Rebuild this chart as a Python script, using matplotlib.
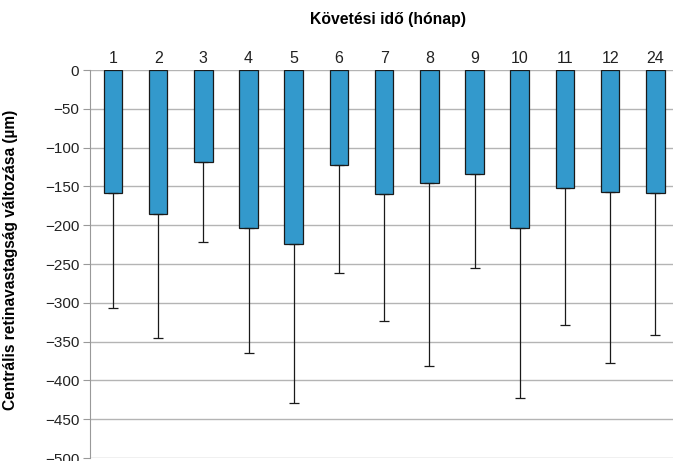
import numpy as np
import matplotlib.pyplot as plt

plt.rcParams['font.family'] = ['Liberation Sans', 'DejaVu Sans']

# Follow-up months and mean change (µm) with SD (drawn downward)
months = ["1", "2", "3", "4", "5", "6", "7", "8", "9", "10", "11", "12", "24"]
mean_change = [-159, -185, -118, -203, -224, -122, -160, -146, -134, -203, -152, -157, -159]
sd = [148, 160, 104, 162, 205, 139, 163, 236, 121, 220, 177, 221, 182]

fig = plt.figure(figsize=(6.73, 4.61), dpi=100)
ax = fig.add_axes([0.1343, 0.0065, 0.873, 0.8416])

x = np.arange(len(months))
lower = np.array(sd)
upper = np.zeros(len(sd))

ax.bar(x, mean_change, width=0.41, color="#3399cc", edgecolor="#1a1a1a",
       linewidth=0.9, zorder=3,
       yerr=[lower, upper], capsize=3.5,
       error_kw=dict(ecolor="#1a1a1a", elinewidth=0.9, capthick=0.9, zorder=4))

ax.set_xlim(-0.5, len(months) - 0.5)
ax.set_ylim(-500, 0)
ax.set_yticks(np.arange(-500, 1, 50))
ax.yaxis.grid(True, color="#b4b4b4", linewidth=1.0, zorder=0)
ax.set_axisbelow(True)

ax.xaxis.tick_top()
ax.set_xticks(x)
ax.set_xticklabels(months, fontsize=11.5, color="#222222")
ax.tick_params(axis="x", length=0, pad=3)
ax.tick_params(axis="y", length=5, color="#999999", labelsize=11,
               labelcolor="#222222", pad=3)

for s in ["top", "right", "bottom"]:
    ax.spines[s].set_visible(False)
ax.spines["left"].set_color("#999999")

ax.set_ylabel("Centrális retinavastagság változása (µm)", fontsize=11.2,
              fontweight="bold")
ax.yaxis.set_label_coords(-0.123, 0.51)
fig.text(0.577, 0.957, "Követési idő (hónap)", ha="center", va="center",
         fontsize=11.3, fontweight="bold")

fig.savefig("out.png", dpi=100)
